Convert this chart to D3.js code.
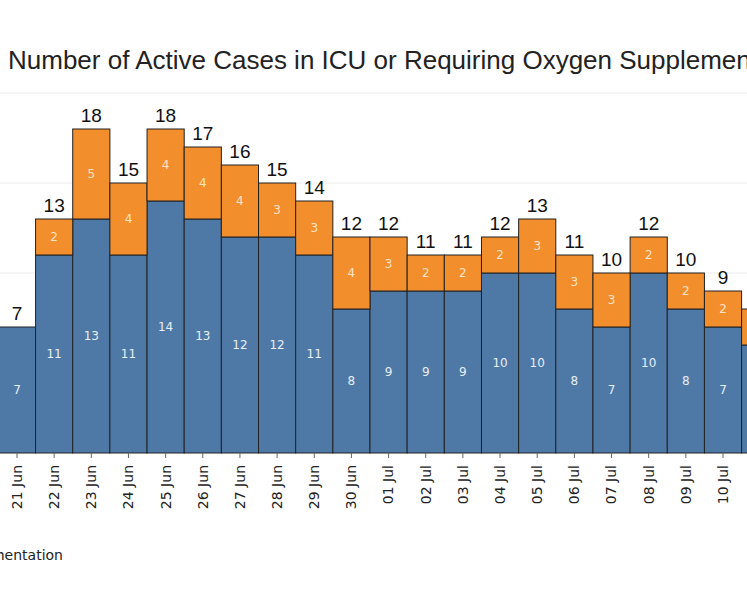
<!DOCTYPE html>
<html><head><meta charset="utf-8">
<script src="https://cdn.jsdelivr.net/npm/d3@7"></script>
<style>body{margin:0;background:#fff;overflow:hidden}text{font-family:"DejaVu Sans",sans-serif}</style>
</head><body><svg id="c" width="747" height="598"></svg>
<script>
// values
const days = ['21 Jun','22 Jun','23 Jun','24 Jun','25 Jun','26 Jun','27 Jun','28 Jun','29 Jun','30 Jun',
  '01 Jul','02 Jul','03 Jul','04 Jul','05 Jul','06 Jul','07 Jul','08 Jul','09 Jul','10 Jul','11 Jul'];
const icu = [7,11,13,11,14,13,12,12,11,8,9,9,9,10,10,8,7,10,8,7,6];
const oxygen = [0,2,5,4,4,4,4,3,3,4,3,2,2,2,3,3,3,2,2,2,2];
const gridTicks = [10,15,20];

const svg = d3.select('#c');
const step = 37.16;
const x = d3.scaleBand().domain(days).range([-1.6, -1.6 + step * days.length]).padding(0);
const y = d3.scaleLinear().domain([0, 20]).range([453, 93]);

svg.append('text').attr('x', 8).attr('y', 69).style('font-family', '"Liberation Sans", Arial, sans-serif')
  .attr('font-size', 26).attr('fill', '#222')
  .text('Number of Active Cases in ICU or Requiring Oxygen Supplementation');

svg.append('g').selectAll('line').data(gridTicks).join('line')
  .attr('x1', 0).attr('x2', 747).attr('y1', d => y(d)).attr('y2', d => y(d))
  .attr('stroke', '#ececec');

const data = days.map((d, i) => ({ d, a: icu[i], b: oxygen[i] }));
const g = svg.append('g');
g.selectAll('rect.a').data(data).join('rect')
  .attr('x', d => x(d.d)).attr('width', x.bandwidth())
  .attr('y', d => y(d.a)).attr('height', d => y(0) - y(d.a))
  .attr('fill', '#4e79a7').attr('stroke', '#222').attr('stroke-width', 1);
g.selectAll('rect.b').data(data.filter(d => d.b > 0)).join('rect')
  .attr('x', d => x(d.d)).attr('width', x.bandwidth())
  .attr('y', d => y(d.a + d.b)).attr('height', d => y(d.a) - y(d.a + d.b))
  .attr('fill', '#f28e2b').attr('stroke', '#222').attr('stroke-width', 1);

const cx = d => x(d.d) + x.bandwidth() / 2;
g.selectAll('text.a').data(data).join('text')
  .attr('x', cx).attr('y', d => (y(0) + y(d.a)) / 2 + 4).attr('text-anchor', 'middle')
  .attr('font-size', 12).attr('fill', '#e8eef5').text(d => d.a);
g.selectAll('text.b').data(data.filter(d => d.b > 0)).join('text')
  .attr('x', cx).attr('y', d => (y(d.a) + y(d.a + d.b)) / 2 + 4).attr('text-anchor', 'middle')
  .attr('font-size', 12).attr('fill', '#fde3c8').text(d => d.b);
g.selectAll('text.t').data(data).join('text')
  .attr('x', cx).attr('y', d => y(d.a + d.b) - 7).attr('text-anchor', 'middle')
  .style('font-family', '"Liberation Sans", Arial, sans-serif')
  .attr('font-size', 19).attr('fill', '#111').text(d => d.a + d.b);

const ax = svg.append('g').attr('transform', 'translate(0,453)')
  .call(d3.axisBottom(x).tickSize(5).tickSizeOuter(0));
ax.select('.domain').remove();
ax.selectAll('line').attr('stroke', '#666');
ax.selectAll('text').attr('transform', 'rotate(-90)').attr('text-anchor', 'end')
  .attr('x', -12).attr('y', 0).attr('dy', '0.35em').attr('font-size', 14).attr('fill', '#222');

svg.append('text').attr('x', 63).attr('y', 560).attr('text-anchor', 'end')
  .attr('font-size', 14).attr('fill', '#222').text('Requiring Oxygen Supplementation');
</script></body></html>
